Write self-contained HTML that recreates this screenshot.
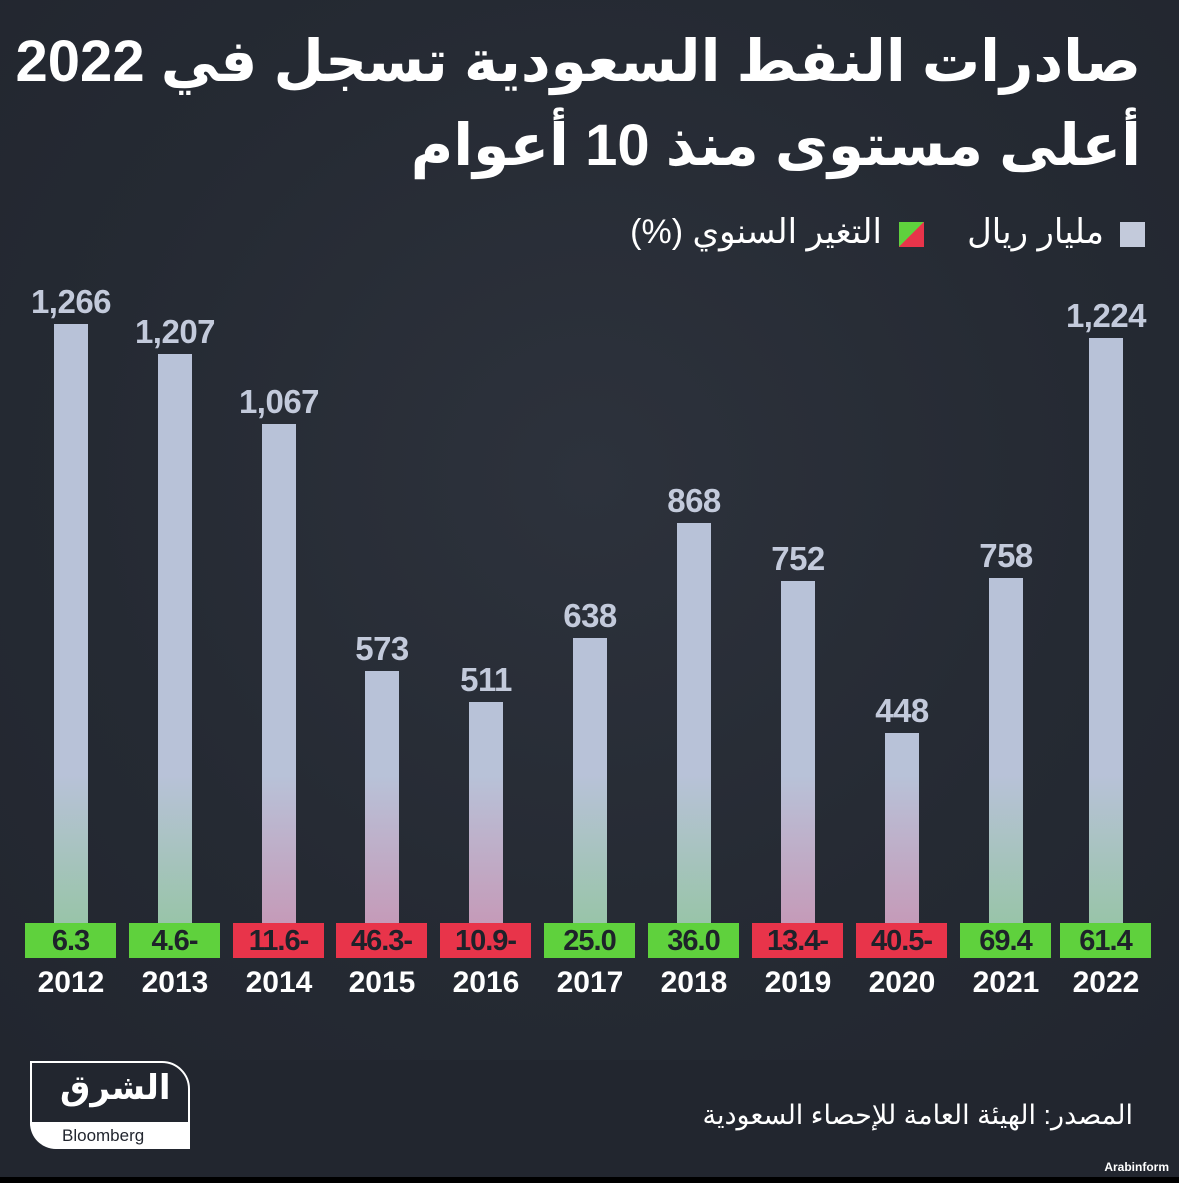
<!DOCTYPE html>
<html><head><meta charset="utf-8"><style>
body{margin:0;width:1179px;height:1183px;background:#22262f;overflow:hidden;position:relative;font-family:"Liberation Sans","DejaVu Sans",sans-serif}
.t{position:absolute;right:38px;color:#fff;font-weight:bold;font-size:58px;direction:rtl;white-space:nowrap;line-height:1}
.bar{position:absolute;width:34px}
.v{position:absolute;width:160px;text-align:center;color:#c3cadb;font-weight:bold;font-size:33px;letter-spacing:-0.5px}
.box{position:absolute;top:923px;height:35px;width:91px;text-align:center;font-weight:bold;font-size:29px;line-height:36px;color:#1e222a;letter-spacing:-1px}
.yr{position:absolute;top:966px;width:120px;text-align:center;color:#fff;font-weight:bold;font-size:30px}
</style></head><body>
<div style="position:absolute;left:0;top:0;width:1179px;height:1060px;background:radial-gradient(ellipse at 50% 45%,#2d323c 0%,#252a33 60%,#22262f 100%)"></div>
<div class="t" style="top:33px">صادرات النفط السعودية تسجل في 2022</div>
<div class="t" style="top:117px">أعلى مستوى منذ 10 أعوام</div>
<div style="position:absolute;top:222px;right:34px;width:25px;height:25px;background:#c3cadb"></div>
<div style="position:absolute;top:212px;right:75px;color:#fff;font-size:34px;direction:rtl;white-space:nowrap">مليار ريال</div>
<div style="position:absolute;top:222px;right:255px;width:25px;height:25px;background:linear-gradient(135deg,#5fd13d 50%,#e8344a 50%)"></div>
<div style="position:absolute;top:212px;right:297px;color:#fff;font-size:34px;direction:rtl;white-space:nowrap">التغير السنوي (%)</div>
<div id="c"></div>
<div style="position:absolute;left:30px;top:1061px;width:160px;height:88px;border:2px solid #fff;border-radius:0 28px 0 28px;box-sizing:border-box"></div>
<div style="position:absolute;top:1122px;height:27px;background:#fff;border-radius:0 0 0 26px;left:30px;width:160px"></div>
<div style="position:absolute;left:60px;top:1068px;color:#fff;font-weight:bold;font-size:34px;direction:rtl">الشرق</div>
<div style="position:absolute;left:62px;top:1126px;color:#22262f;font-size:17px">Bloomberg</div>
<div style="position:absolute;right:46px;top:1100px;color:#fff;font-size:27px;direction:rtl;white-space:nowrap">المصدر: الهيئة العامة للإحصاء السعودية</div>
<div style="position:absolute;left:0;top:1177px;width:1179px;height:6px;background:#000"></div>
<div style="position:absolute;right:10px;top:1160px;color:#fff;font-weight:bold;font-size:12px">Arabinform</div>
<script>
var d=[[71,1266,"6.3",1],[175,1207,"4.6-",1],[279,1067,"11.6-",0],[382,573,"46.3-",0],[486,511,"10.9-",0],[590,638,"25.0",1],[694,868,"36.0",1],[798,752,"13.4-",0],[902,448,"40.5-",0],[1006,758,"69.4",1],[1106,1224,"61.4",1]];
var h="";
d.forEach(function(e,i){var top=957-e[1]*0.5;if(i==10)top=338;var hgt=925-top;var bc=e[3]?"#98c4a8":"#c59ab8";
var f=Math.max(0,Math.min(100,150/hgt*100));
h+='<div class="bar" style="left:'+(e[0]-17)+'px;top:'+top+'px;height:'+hgt+'px;background:linear-gradient(to top,'+bc+' 0%,#b8c2d8 '+f+'%,#b8c2d8 100%)"></div>';
h+='<div class="v" style="left:'+(e[0]-80)+'px;top:'+(top-41)+'px">'+(e[1]>=1000?(e[1]+"").replace(/^(\d)/,"$1,"):e[1])+'</div>';
h+='<div class="box" style="left:'+(e[0]-46)+'px;background:'+(e[3]?"#5fd13d":"#e8344a")+'">'+e[2]+'</div>';
h+='<div class="yr" style="left:'+(e[0]-60)+'px">'+(2012+i)+'</div>';});
document.getElementById("c").innerHTML=h;
</script>
</body></html>
